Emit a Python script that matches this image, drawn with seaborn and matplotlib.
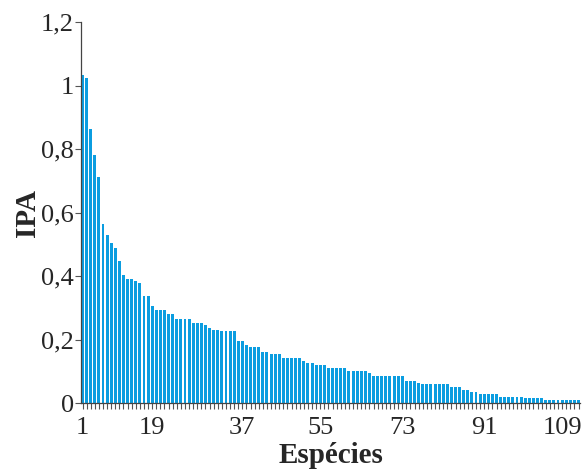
import matplotlib
matplotlib.use("Agg")
import matplotlib.pyplot as plt
import seaborn as sns

# IPA values per species, ranked
ipa = [
    1.032, 1.025, 0.864, 0.781, 0.713, 0.565, 0.531, 0.505, 0.489, 0.447,
    0.404, 0.390, 0.390, 0.386, 0.379, 0.338, 0.338, 0.306, 0.295, 0.295,
    0.295, 0.280, 0.280, 0.264, 0.264, 0.264, 0.264, 0.251, 0.251, 0.251,
    0.245, 0.237, 0.229, 0.229, 0.226, 0.226, 0.226, 0.226, 0.196, 0.196,
    0.183, 0.176, 0.176, 0.176, 0.160, 0.160, 0.154, 0.154, 0.154, 0.141,
    0.141, 0.141, 0.141, 0.141, 0.133, 0.126, 0.126, 0.119, 0.119, 0.119,
    0.111, 0.111, 0.111, 0.111, 0.111, 0.100, 0.100, 0.100, 0.100, 0.100,
    0.094, 0.085, 0.085, 0.085, 0.085, 0.085, 0.085, 0.085, 0.085, 0.069,
    0.069, 0.069, 0.062, 0.059, 0.059, 0.059, 0.059, 0.059, 0.059, 0.059,
    0.050, 0.050, 0.050, 0.043, 0.043, 0.036, 0.036, 0.028, 0.028, 0.028,
    0.028, 0.028, 0.021, 0.021, 0.021, 0.021, 0.021, 0.021, 0.017, 0.017,
    0.017, 0.017, 0.017, 0.0095, 0.0095, 0.0095, 0.0095, 0.0095, 0.0095, 0.0095,
    0.0095, 0.0095,
]
species = list(range(1, len(ipa) + 1))

# x labels as they appear in the reference, and the bar index they sit under
x_labels = ["1", "19", "37", "55", "73", "91", "109"]
x_label_idx = [0, 17, 39, 58, 78, 98, 117]

y_ticks = [0, 0.2, 0.4, 0.6, 0.8, 1.0, 1.2]
y_labels = ["0", "0,2", "0,4", "0,6", "0,8", "1", "1,2"]

sns.set_style("ticks")
plt.rcParams['font.family'] = ['Liberation Serif', 'DejaVu Serif']

fig = plt.figure(figsize=(5.86, 4.71), dpi=100)
ax = fig.add_axes([0.138, 0.144, 0.852, 0.809])

sns.barplot(x=species, y=ipa, color='#0b9de0', saturation=1, width=0.72,
            linewidth=0, ax=ax)

ax.set_ylim(0, 1.2)
ax.set_xlim(-0.4, len(ipa) - 0.6)
ax.set_yticks(y_ticks)
ax.set_yticklabels(y_labels, fontsize=19)

ax.set_xticks(range(len(ipa)))
lbls = [''] * len(ipa)
for i, t in zip(x_label_idx, x_labels):
    lbls[i] = t
ax.set_xticklabels(lbls, fontsize=19)
ax.tick_params(axis='x', length=4, width=0.8, color='#555555', pad=6)
ax.tick_params(axis='y', length=4, width=0.8, color='#555555', pad=1)

for s in ['top', 'right']:
    ax.spines[s].set_visible(False)
for s in ['left', 'bottom']:
    ax.spines[s].set_color('#444444')
    ax.spines[s].set_linewidth(0.9)

ax.set_xlabel('Espécies', fontsize=21, fontweight='bold', labelpad=2)
ax.set_ylabel('IPA', fontsize=21, fontweight='bold', labelpad=0)

fig.savefig('out.png', dpi=100)
